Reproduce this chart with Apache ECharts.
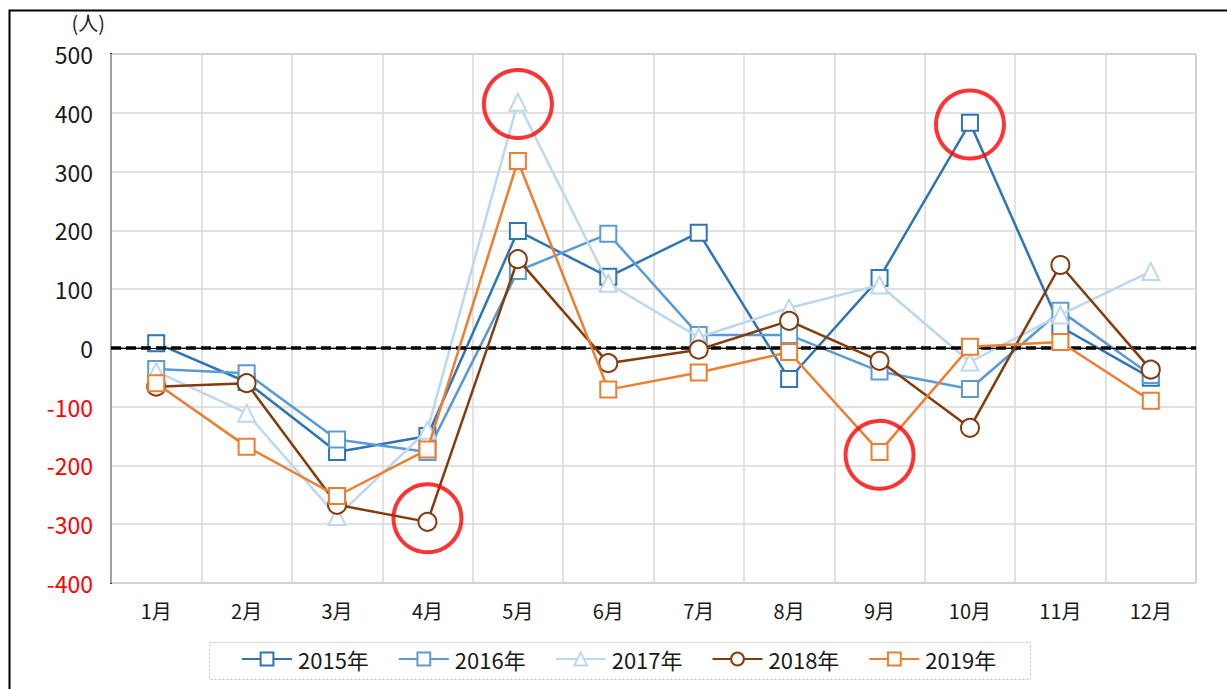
<!DOCTYPE html>
<html>
<head>
<meta charset="utf-8">
<script src="https://cdn.jsdelivr.net/npm/echarts@6/dist/echarts.min.js"></script>
<style>
html,body{margin:0;padding:0;background:#fff;}
#chart{width:1227px;height:689px;}
</style>
</head>
<body>
<div id="chart"></div>
<script>
const months = ['1月','2月','3月','4月','5月','6月','7月','8月','9月','10月','11月','12月'];
const yTicks = { min: -400, max: 500, step: 100 };
const unitLabel = '(人)';
const s2015 = [8, -58, -177, -150, 199, 121, 196, -53, 119, 383, 36, -51];
const s2016 = [-36, -43, -156, -177, 131, 194, 22, 22, -40, -70, 63, -46];
const s2017 = [-40, -111, -287, -140, 418, 110, 18, 68, 107, -24, 56, 130];
const s2018 = [-66, -60, -267, -296, 151, -26, -3, 46, -22, -136, 141, -37];
const s2019 = [-60, -168, -252, -173, 318, -71, -42, -7, -177, 2, 10, -90];
const seriesNames = ['2015年','2016年','2017年','2018年','2019年'];
const highlightCats = ['5月','10月','4月','9月'];
const highlightVals = [415, 380, -290, -182];

const colors = ['#2e75b6','#5b9bd5','#bdd7ee','#843c0c','#ed7d31'];
const symbols = ['rect','rect','triangle','circle','rect'];
const sizes = [16,16,17,18,16];
const allData = [s2015, s2016, s2017, s2018, s2019];
const FONT = '"Noto Sans CJK JP", "Noto Sans", sans-serif';

const chart = echarts.init(document.getElementById('chart'), null, {renderer: 'svg'});

const lineSeries = allData.map((d, i) => ({
  name: seriesNames[i],
  type: 'line',
  data: d,
  symbol: symbols[i],
  symbolSize: sizes[i],
  showAllSymbol: true,
  z: 2 + i,
  lineStyle: { color: colors[i], width: 2.5 },
  itemStyle: { color: '#ffffff', borderColor: colors[i], borderWidth: 2 },
  emphasis: { disabled: true },
  animation: false
}));

const option = {
  animation: false,
  backgroundColor: '#ffffff',
  textStyle: { fontFamily: FONT },
  grid: {
    left: 111, right: 31, top: 54, bottom: 106,
    show: true, borderColor: '#808080', borderWidth: 1, backgroundColor: '#ffffff'
  },
  legend: {
    data: seriesNames,
    left: 236, top: 643,
    itemWidth: 50, itemHeight: 16, itemGap: 29,
    textStyle: { fontFamily: FONT, fontSize: 22, color: '#1a1a1a', width: 76, padding: [0,0,0,1] },
    selectedMode: false
  },
  xAxis: {
    type: 'category',
    data: months,
    boundaryGap: true,
    axisLine: { show: true, lineStyle: { color: '#808080', width: 1.5 } },
    axisTick: { show: false },
    axisLabel: { fontFamily: FONT, fontSize: 20, color: '#1a1a1a', margin: 17 },
    splitLine: { show: true, lineStyle: { color: '#d9d9d9', width: 1.5 } },
    z: 1
  },
  yAxis: {
    type: 'value',
    min: yTicks.min, max: yTicks.max, interval: yTicks.step,
    name: unitLabel,
    nameLocation: 'end',
    nameGap: 22,
    nameTextStyle: { fontFamily: FONT, fontSize: 20, color: '#1a1a1a', align: 'right', padding: [0, 6, 0, 0] },
    axisLine: { show: true, onZero: false, lineStyle: { color: '#000000', width: 2 } },
    axisTick: { show: false },
    axisLabel: {
      fontFamily: FONT, fontSize: 23, margin: 18,
      color: function (v) { return Number(v) < 0 ? '#ff0000' : '#1a1a1a'; }
    },
    splitLine: { show: true, lineStyle: { color: '#d9d9d9', width: 1.5 } }
  },
  series: lineSeries.concat([
    {
      name: 'highlight',
      type: 'scatter',
      data: highlightCats.map((c, i) => [c, highlightVals[i]]),
      symbol: 'circle',
      symbolSize: 68,
      z: 20,
      itemStyle: { color: 'rgba(0,0,0,0)', borderColor: '#ff0000', borderWidth: 4 },
      emphasis: { disabled: true },
      silent: true,
      markLine: {
        silent: true,
        symbol: 'none',
        label: { show: false },
        animation: false,
        data: [
          { yAxis: 0, lineStyle: { color: '#000000', width: 1, type: 'solid' } },
          { yAxis: 0, lineStyle: { color: '#000000', width: 3.5, type: [10, 5] } }
        ]
      }
    }
  ]),
  graphic: [
    {
      type: 'rect',
      left: 207, top: 640,
      shape: { width: 821, height: 37 },
      style: { fill: 'none', stroke: '#bfbfbf', lineWidth: 1, lineDash: [2, 2] },
      z: -1
    },
    {
      type: 'rect',
      left: 7, top: 8,
      shape: { width: 1240, height: 700 },
      style: { fill: 'none', stroke: '#000000', lineWidth: 2 },
      z: 100
    }
  ]
};
chart.setOption(option);
</script>
</body>
</html>
